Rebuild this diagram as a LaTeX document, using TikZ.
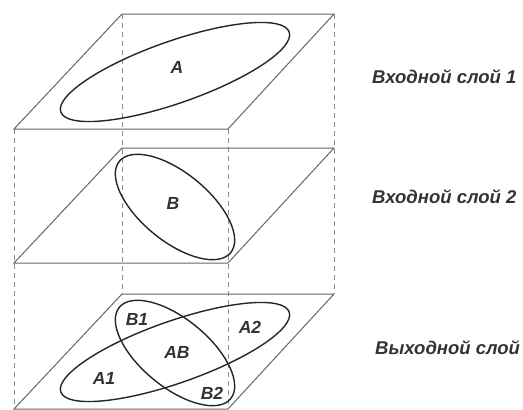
\documentclass[tikz,border=0pt]{standalone}
\usepackage{fontspec}
\setmainfont{Liberation Sans}
\tikzset{
  plane/.style={draw=black!60, line width=1pt},
  edge/.style={draw=black!45, line width=0.7pt, dash pattern=on 5pt off 4pt},
  set/.style={draw=black!85, line width=1.4pt},
  lbl/.style={font=\bfseries\itshape\fontsize{17.5}{20}\selectfont, text=black!80, inner sep=0pt},
  layer/.style={font=\bfseries\itshape\fontsize{18.5}{21}\selectfont, text=black!80, inner sep=0pt, anchor=west}
}
\begin{document}
\begin{tikzpicture}[x=1pt, y=-1pt]
    \useasboundingbox (0,0) rectangle (523,409.5);
    \foreach \i/\dy in {1/0, 2/134, 3/280} {
        \coordinate (p\i-bl) at (14,129+\dy);
        \coordinate (p\i-br) at (228,129+\dy);
        \coordinate (p\i-tr) at (334,14+\dy);
        \coordinate (p\i-tl) at (122,14+\dy);
    }
    \draw[edge] (p1-bl) -- (p3-bl);
    \draw[edge] (p1-tl) -- (p3-tl);
    \draw[edge] (p1-br) -- (p3-br);
    \draw[edge] (p1-tr) -- (p3-tr);
    \foreach \i in {1,2,3}
        \draw[plane] (p\i-bl) -- (p\i-br) -- (p\i-tr) -- (p\i-tl) -- cycle;
    % sets
    \draw[set, rotate around={19.3:(175,72)}] (175,72) ellipse [x radius=121pt, y radius=31pt];
    \draw[set, rotate around={-39.4:(175,207)}] (175,207) ellipse [x radius=72pt, y radius=34pt];
    \draw[set, rotate around={19.3:(175,352)}] (175,352) ellipse [x radius=121pt, y radius=31pt];
    \draw[set, rotate around={-39.4:(175,353)}] (175,353) ellipse [x radius=72pt, y radius=34pt];
    \node[lbl] (a) at (177,67) {A};
    \node[lbl] (b) at (173,203) {B};
    \node[lbl] (b1) at (137,319) {B1};
    \node[lbl] (a2) at (250,327) {A2};
    \node[lbl] (ab) at (177,352) {AB};
    \node[lbl] (a1) at (104,378) {A1};
    \node[lbl] (b2) at (212,393) {B2};
    \node[layer] (in1) at (372,77) {Входной слой 1};
    \node[layer] (in2) at (372,197) {Входной слой 2};
    \node[layer] (out) at (375,348) {Выходной слой};
\end{tikzpicture}
\end{document}
